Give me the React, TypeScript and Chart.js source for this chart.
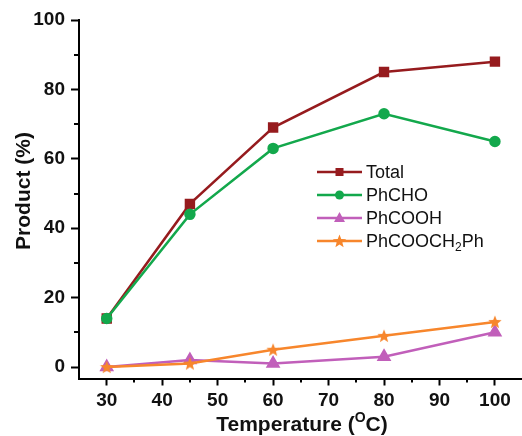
import React, { useEffect, useRef } from 'react';
import { Chart, registerables } from 'chart.js';

Chart.register(...registerables);

const temps = [30, 45, 60, 80, 100];
const total = [14, 47, 69, 85, 88];
const phcho = [14, 44, 63, 73, 65];
const phcooh = [0, 2, 1, 3, 10];
const ester = [0, 1, 5, 9, 13];

const xMajor = [30, 40, 50, 60, 70, 80, 90, 100];
const xMinor = [35, 45, 55, 65, 75, 85, 95];
const yMajor = [0, 20, 40, 60, 80, 100];
const yMinor = [10, 30, 50, 70, 90];

const seriesNames = ['Total', 'PhCHO', 'PhCOOH', 'PhCOOCH2Ph'];
const colors = ['#961b1e', '#13a84c', '#c15fba', '#f7862c'];

function starPath(ctx: CanvasRenderingContext2D, cx: number, cy: number, R: number, r: number) {
  ctx.beginPath();
  for (let i = 0; i < 10; i++) {
    const a = -Math.PI / 2 + (i * Math.PI) / 5;
    const rad = i % 2 === 0 ? R : r;
    const x = cx + rad * Math.cos(a);
    const y = cy + rad * Math.sin(a);
    if (i === 0) ctx.moveTo(x, y);
    else ctx.lineTo(x, y);
  }
  ctx.closePath();
}

function makeStar(color: string) {
  const c = document.createElement('canvas');
  c.width = 16;
  c.height = 16;
  const g = c.getContext('2d')!;
  g.fillStyle = color;
  starPath(g, 8, 8.5, 7, 3);
  g.fill();
  return c;
}

function drawMarker(ctx: CanvasRenderingContext2D, kind: number, x: number, y: number, color: string) {
  ctx.fillStyle = color;
  if (kind === 0) {
    ctx.fillRect(x - 4, y - 4, 8, 8);
  } else if (kind === 1) {
    ctx.beginPath();
    ctx.arc(x, y, 4.5, 0, Math.PI * 2);
    ctx.fill();
  } else if (kind === 2) {
    ctx.beginPath();
    ctx.moveTo(x, y - 6);
    ctx.lineTo(x + 5.5, y + 4);
    ctx.lineTo(x - 5.5, y + 4);
    ctx.closePath();
    ctx.fill();
  } else {
    starPath(ctx, x, y + 0.5, 7, 3);
    ctx.fill();
  }
}

const decoPlugin = {
  id: 'deco',
  afterDraw(chart: any) {
    const ctx: CanvasRenderingContext2D = chart.ctx;
    const xs = chart.scales.x;
    const ys = chart.scales.y;
    const area = chart.chartArea;
    ctx.save();
    ctx.strokeStyle = '#000';
    ctx.lineWidth = 2;
    xMinor.forEach((v) => {
      const px = Math.round(xs.getPixelForValue(v));
      ctx.beginPath();
      ctx.moveTo(px, area.bottom);
      ctx.lineTo(px, area.bottom + 4);
      ctx.stroke();
    });
    yMinor.forEach((v) => {
      const py = Math.round(ys.getPixelForValue(v));
      ctx.beginPath();
      ctx.moveTo(area.left, py);
      ctx.lineTo(area.left - 5, py);
      ctx.stroke();
    });

    // x title with superscript
    ctx.fillStyle = '#111';
    ctx.textBaseline = 'alphabetic';
    const big = "bold 21px 'Liberation Sans', Arial, sans-serif";
    const small = "bold 14px 'Liberation Sans', Arial, sans-serif";
    const p1 = 'Temperature (';
    const p2 = 'O';
    const p3 = 'C)';
    ctx.font = big;
    const w1 = ctx.measureText(p1).width;
    const w3 = ctx.measureText(p3).width;
    ctx.font = small;
    const w2 = ctx.measureText(p2).width;
    const totalW = w1 + w2 + w3;
    const cx = 302;
    const x0 = cx - totalW / 2;
    const base = 431;
    ctx.font = big;
    ctx.fillText(p1, x0, base);
    ctx.font = small;
    ctx.fillText(p2, x0 + w1, base - 9);
    ctx.font = big;
    ctx.fillText(p3, x0 + w1 + w2, base);

    // y title
    ctx.save();
    ctx.translate(30, 191);
    ctx.rotate(-Math.PI / 2);
    ctx.font = "bold 21px 'Liberation Sans', Arial, sans-serif";
    ctx.textAlign = 'center';
    ctx.fillText('Product (%)', 0, 0);
    ctx.restore();

    // legend
    const rows = [172, 195, 218, 241];
    rows.forEach((ry, i) => {
      ctx.strokeStyle = colors[i];
      ctx.lineWidth = 2.5;
      ctx.beginPath();
      ctx.moveTo(317, ry);
      ctx.lineTo(362, ry);
      ctx.stroke();
      drawMarker(ctx, i, 339.5, ry, colors[i]);
      ctx.fillStyle = '#111';
      ctx.font = "18px 'Liberation Sans', Arial, sans-serif";
      ctx.textBaseline = 'middle';
      ctx.textAlign = 'left';
      const name = seriesNames[i];
      if (name === 'PhCOOCH2Ph') {
        const a = 'PhCOOCH';
        ctx.fillText(a, 366, ry + 1);
        const wa = ctx.measureText(a).width;
        ctx.font = "12px 'Liberation Sans', Arial, sans-serif";
        ctx.fillText('2', 366 + wa, ry + 7);
        const wb = ctx.measureText('2').width;
        ctx.font = "18px 'Liberation Sans', Arial, sans-serif";
        ctx.fillText('Ph', 366 + wa + wb, ry + 1);
      } else {
        ctx.fillText(name, 366, ry + 1);
      }
    });
    ctx.restore();
  },
};

export default function App() {
  const ref = useRef<HTMLCanvasElement>(null);
  useEffect(() => {
    document.body.style.margin = '0';
    const star = makeStar(colors[3]);
    const mk = (arr: number[]) => temps.map((t, i) => ({ x: t, y: arr[i] }));
    const chart = new Chart(ref.current!, {
      type: 'line',
      data: {
        datasets: [
          { label: seriesNames[0], data: mk(total), borderColor: colors[0], backgroundColor: colors[0], borderWidth: 2.5, pointStyle: 'rect', pointRadius: 5.6, order: 3 },
          { label: seriesNames[1], data: mk(phcho), borderColor: colors[1], backgroundColor: colors[1], borderWidth: 2.5, pointStyle: 'circle', pointRadius: 4.5, order: 2 },
          { label: seriesNames[2], data: mk(phcooh), borderColor: colors[2], backgroundColor: colors[2], borderWidth: 2.5, pointStyle: 'triangle', pointRadius: 6, order: 1 },
          { label: seriesNames[3], data: mk(ester), borderColor: colors[3], backgroundColor: colors[3], borderWidth: 2.5, pointStyle: star as any, order: 0 },
        ] as any,
      },
      options: {
        animation: false,
        responsive: false,
        devicePixelRatio: 1,
        layout: { autoPadding: false, padding: { top: 20, right: 1, left: 0, bottom: 0 } },
        plugins: { legend: { display: false }, tooltip: { enabled: false } },
        elements: { line: { tension: 0 }, point: { borderWidth: 0 } },
        scales: {
          x: {
            type: 'linear',
            min: 25,
            max: 104.7,
            afterBuildTicks: (s: any) => { s.ticks = xMajor.map((v) => ({ value: v })); },
            afterFit: (s: any) => { s.height = 57.5; s.paddingLeft = 0; s.paddingRight = 0; },
            grid: { display: true, drawOnChartArea: false, drawTicks: true, tickLength: 7, tickWidth: 2, tickColor: '#000' },
            border: { display: true, color: '#000', width: 2 },
            ticks: { color: '#111', padding: 4, maxRotation: 0, font: { family: "'Liberation Sans', Arial, sans-serif", size: 19, weight: 'bold' } },
          },
          y: {
            type: 'linear',
            min: -3.3,
            max: 100,
            afterBuildTicks: (s: any) => { s.ticks = yMajor.map((v) => ({ value: v })); },
            afterFit: (s: any) => { s.width = 79; s.paddingTop = 0; s.paddingBottom = 0; },
            grid: { display: true, drawOnChartArea: false, drawTicks: true, tickLength: 8, tickWidth: 2, tickColor: '#000' },
            border: { display: true, color: '#000', width: 2 },
            ticks: { color: '#111', padding: 6, font: { family: "'Liberation Sans', Arial, sans-serif", size: 19, weight: 'bold' } },
          },
        },
      } as any,
      plugins: [decoPlugin],
    });
    return () => chart.destroy();
  }, []);
  return (
    <div style={{ width: 522, height: 436 }}>
      <canvas ref={ref} width={522} height={436} style={{ display: 'block' }} />
    </div>
  );
}
